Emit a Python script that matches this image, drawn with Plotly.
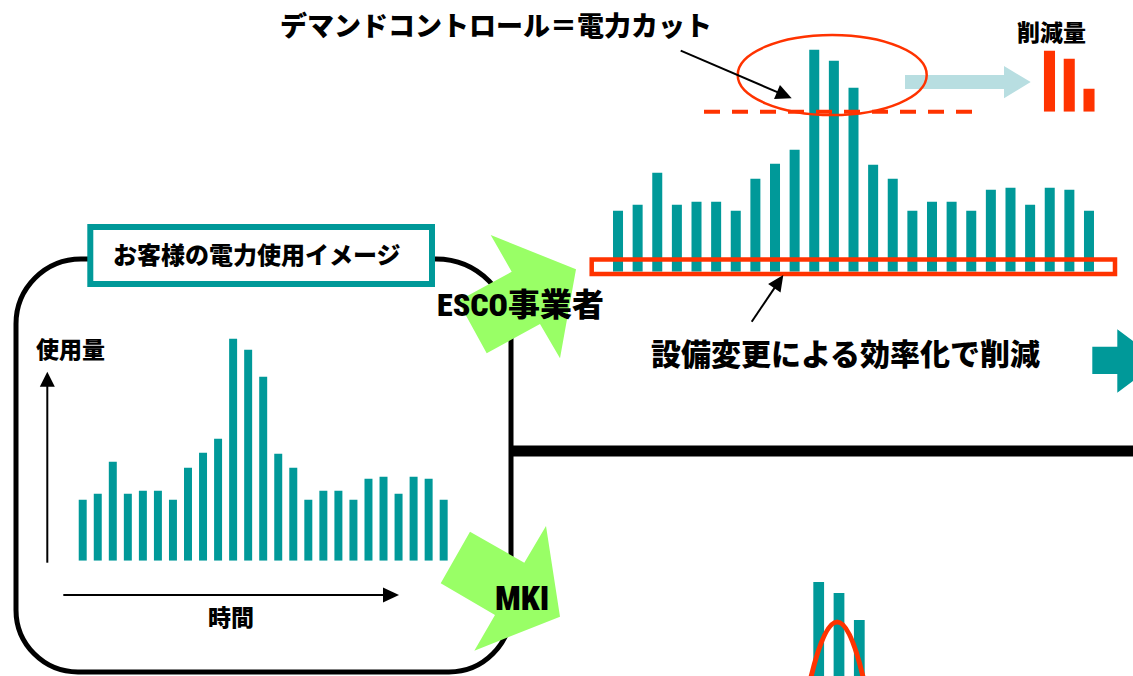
import plotly.graph_objects as go

# ---------------- data ----------------
usage = [61, 67, 99, 67, 70, 70, 61, 93, 108, 122, 222, 211, 184,
         107, 93, 61, 70, 70, 61, 82, 84, 67, 84, 82, 61]
slots = list(range(len(usage)))
reduction = [61, 53, 23]
reduction_slots = [0, 1, 2]
threshold = 160

title_text = "デマンドコントロール＝電力カット"
box_title = "お客様の電力使用イメージ"
y_label = "使用量"
x_label = "時間"
cut_label = "削減量"
eff_label = "設備変更による効率化で削減"
esco_label = "ESCO事業者"
mki_label = "MKI"

# ---------------- style ----------------
W, H = 1133, 676
TEAL = "#009999"
RED = "#FF3300"
GREEN = "#99FF66"
LBLUE = "#B8DEE1"
JP = "Noto Sans CJK JP"
NARROW = "Liberation Sans Narrow, Roboto Condensed, Noto Sans CJK JP"


def fx(px):
    return px / W


def fy(py):
    return 1 - py / H


fig = go.Figure()

# left chart
fig.add_trace(go.Bar(x=slots, y=usage, width=0.53, marker=dict(color=TEAL, line=dict(width=0)),
                     xaxis="x", yaxis="y", hoverinfo="skip"))
# top-right chart
fig.add_trace(go.Bar(x=slots, y=usage, width=0.51, marker=dict(color=TEAL, line=dict(width=0)),
                     xaxis="x2", yaxis="y2", hoverinfo="skip"))
# bottom-right chart (only the peak is visible)
fig.add_trace(go.Bar(x=slots, y=usage, width=0.53, marker=dict(color=TEAL, line=dict(width=0)),
                     xaxis="x3", yaxis="y3", hoverinfo="skip"))
# reduction bars
fig.add_trace(go.Bar(x=reduction_slots, y=reduction, width=0.56, marker=dict(color=RED, line=dict(width=0)),
                     xaxis="x4", yaxis="y4", hoverinfo="skip"))

hid = dict(visible=False, showgrid=False, zeroline=False, fixedrange=True)
x3_left = 10 - (818.7 - 600) / 20.3
x3_right = 10 + (1133 - 818.7) / 20.3
fig.update_layout(
    width=W, height=H, margin=dict(l=0, r=0, t=0, b=0),
    paper_bgcolor="white", plot_bgcolor="rgba(0,0,0,0)",
    showlegend=False, barmode="overlay",
    xaxis=dict(domain=[fx(75.2), fx(451.2)], range=[-0.5, 24.5], anchor="y", **hid),
    yaxis=dict(domain=[fy(560.7), fy(320.7)], range=[0, 240], anchor="x", **hid),
    xaxis2=dict(domain=[fx(608.2), fx(1098.8)], range=[-0.5, 24.5], anchor="y2", **hid),
    yaxis2=dict(domain=[fy(271.7), fy(31.7)], range=[0, 240], anchor="x2", **hid),
    xaxis3=dict(domain=[fx(600), 1.0], range=[x3_left, x3_right], anchor="y3", **hid),
    yaxis3=dict(domain=[0, fy(540)], range=[804 - 676, 804 - 540], anchor="x3", **hid),
    xaxis4=dict(domain=[fx(1039.6), fx(1098.9)], range=[-0.5, 2.5], anchor="y4", **hid),
    yaxis4=dict(domain=[fy(111.7), fy(31.7)], range=[0, 80], anchor="x4", **hid),
    xaxis5=dict(domain=[0, 1], range=[0, W], anchor="y5", **hid),
    yaxis5=dict(domain=[0, 1], range=[H, 0], anchor="x5", **hid),
)

shapes = []
P = dict(xref="x5", yref="y5")


def poly(pts, color):
    d = "M " + " L ".join(f"{x},{y}" for x, y in pts) + " Z"
    return dict(type="path", path=d, fillcolor=color, line=dict(width=0), **P)


def arrow(x0, y0, x1, y1, hl, hw, color="black", lw=2):
    dx, dy = x1 - x0, y1 - y0
    L = (dx * dx + dy * dy) ** 0.5
    ux, uy = dx / L, dy / L
    bx, by = x1 - hl * ux, y1 - hl * uy
    px, py = -uy * hw / 2, ux * hw / 2
    out = [dict(type="line", x0=x0, y0=y0, x1=bx + ux, y1=by + uy, line=dict(color=color, width=lw), **P),
           poly([(x1, y1), (bx + px, by + py), (bx - px, by - py)], color)]
    return out


# rounded black box
x0, x1, y0, y1 = 16, 511, 259, 672
rtl, rtr, rbr, rbl = 65, 75, 62, 62
k = 0.552
d = (f"M {x0 + rtl},{y0} L {x1 - rtr},{y0} "
     f"C {x1 - rtr + k * rtr},{y0} {x1},{y0 + rtr - k * rtr} {x1},{y0 + rtr} "
     f"L {x1},{y1 - rbr} "
     f"C {x1},{y1 - rbr + k * rbr} {x1 - rbr + k * rbr},{y1} {x1 - rbr},{y1} "
     f"L {x0 + rbl},{y1} "
     f"C {x0 + rbl - k * rbl},{y1} {x0},{y1 - rbl + k * rbl} {x0},{y1 - rbl} "
     f"L {x0},{y0 + rtl} "
     f"C {x0},{y0 + rtl - k * rtl} {x0 + rtl - k * rtl},{y0} {x0 + rtl},{y0} Z")
shapes.append(dict(type="path", path=d, line=dict(color="black", width=5), fillcolor="rgba(0,0,0,0)", **P))
# horizontal divider
shapes.append(dict(type="line", x0=511, x1=W + 5, y0=451, y1=451, line=dict(color="black", width=11), **P))
# title box
shapes.append(dict(type="rect", x0=90.3, x1=432, y0=227, y1=284, line=dict(color=TEAL, width=6),
                   fillcolor="white", **P))
# green block arrows
shapes.append(poly([(458, 301), (511.7, 271.7), (490.7, 235), (576, 269.3), (560, 358.3),
                    (540, 324), (486.7, 353.3)], GREEN))
shapes.append(poly([(470, 531.7), (524.3, 562.7), (546, 526), (560, 616.7), (474.3, 650.7),
                    (495, 615), (440.7, 583.3)], GREEN))
# light blue arrow
shapes.append(poly([(905, 75), (1004, 75), (1004, 66), (1030.7, 82), (1004, 98.3), (1004, 89), (905, 89)], LBLUE))
# teal arrow on the right edge
shapes.append(poly([(1092.3, 346.7), (1117.3, 346.7), (1117.3, 329.3), (1160, 361), (1117.3, 392.7),
                    (1117.3, 374), (1092.3, 374)], TEAL))
# red frame around bar bases
shapes.append(dict(type="rect", x0=591.7, x1=1115, y0=259.5, y1=274, line=dict(color=RED, width=4.5),
                   fillcolor="rgba(0,0,0,0)", **P))
# ellipse around peak
shapes.append(dict(type="circle", x0=737.7, x1=926.7, y0=35, y1=115, line=dict(color=RED, width=2.5), **P))
# dashed threshold line
shapes.append(dict(type="line", xref="x5", yref="y2", x0=704, x1=972, y0=threshold, y1=threshold,
                   line=dict(color=RED, width=4, dash="16px,12px")))
# pointer arrows
shapes += arrow(680.7, 50.7, 791.7, 98.3, 16, 15, lw=2)
shapes += arrow(751.7, 321.7, 783.3, 275, 16, 15, lw=2)
# axis arrows of the left chart
shapes += arrow(47.3, 562.7, 47.3, 371.7, 15, 15, lw=2)
shapes += arrow(63.3, 595, 399, 595, 16, 15, lw=2)
# red curve over the lower chart
shapes.append(dict(type="path", path="M 806,700 Q 837.3,544 868,700", line=dict(color=RED, width=5),
                   fillcolor="rgba(0,0,0,0)", **P))

fig.update_layout(shapes=shapes)


def label(text, x, y, size, family=JP):
    fig.add_annotation(x=x, y=y, xref="x5", yref="y5", text=text, showarrow=False,
                       xanchor="center", yanchor="middle",
                       font=dict(family=family, size=size, color="black", weight=900))


label(title_text, 495.8, 24.5, 27)
label(box_title, 256.7, 253.3, 24)
label(y_label, 70.5, 347.5, 23)
label(x_label, 230.8, 615.8, 23)
label(cut_label, 1051.7, 31, 23)
label(eff_label, 845.8, 351.7, 30)
label(esco_label, 520.5, 305, 32, NARROW)
label(mki_label, 521.7, 598.3, 34, NARROW)

fig.write_html("out.html", config={"displayModeBar": False},
               post_script="document.body.style.margin='0';document.body.style.overflow='hidden';")
